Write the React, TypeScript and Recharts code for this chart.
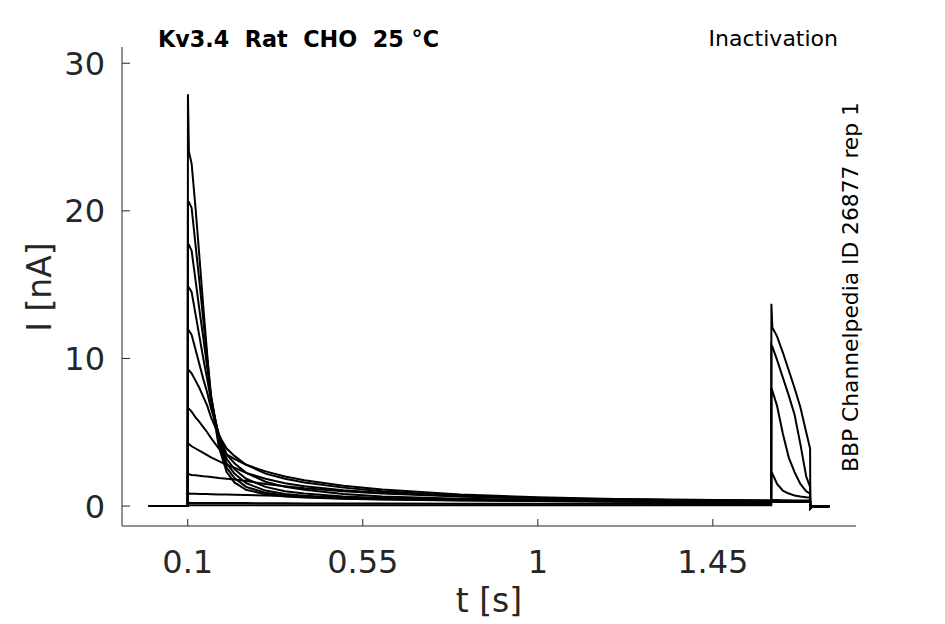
import React from 'react';
import { LineChart, Line, XAxis, YAxis } from 'recharts';

// sample times [s]
const times = [
  0, 0.1, 0.1005, 0.103, 0.11, 0.12, 0.13, 0.14, 0.15, 0.16, 0.18, 0.2,
  0.22, 0.25, 0.3, 0.35, 0.4, 0.5, 0.6, 0.8, 1.0, 1.2, 1.4, 1.6,
  1.6005, 1.603, 1.615, 1.63, 1.645, 1.66, 1.675, 1.69, 1.7, 1.7005, 1.705, 1.75,
];

// current traces [nA], one per prepulse step
const trace1 = [0, 0, 27.9, 24.0, 23.2, 20.2, 16.9, 13.5, 10.3, 7.2, 4.0, 2.3, 1.6, 1.1, 0.8, 0.65, 0.58, 0.5, 0.45, 0.38, 0.34, 0.3, 0.28, 0.27, 0.32, 0.3, 0.29, 0.28, 0.28, 0.27, 0.27, 0.27, 0.27, -0.15, -0.03, -0.02];
const trace2 = [0, 0, 20.6, 20.6, 20.2, 17.7, 15.2, 12.6, 10.0, 7.5, 4.3, 2.6, 1.9, 1.3, 0.9, 0.72, 0.62, 0.52, 0.46, 0.4, 0.35, 0.32, 0.3, 0.28, 0.33, 0.31, 0.3, 0.29, 0.29, 0.28, 0.28, 0.28, 0.28, -0.15, -0.03, -0.02];
const trace3 = [0, 0, 17.7, 17.7, 17.3, 15.3, 13.3, 11.4, 9.4, 7.4, 4.6, 2.9, 2.2, 1.55, 1.05, 0.82, 0.7, 0.57, 0.5, 0.42, 0.37, 0.33, 0.31, 0.29, 0.34, 0.32, 0.31, 0.3, 0.3, 0.29, 0.29, 0.29, 0.29, -0.15, -0.03, -0.02];
const trace4 = [0, 0, 14.8, 14.8, 14.5, 13.0, 11.5, 10.0, 8.6, 7.1, 4.8, 3.2, 2.5, 1.85, 1.3, 1.0, 0.85, 0.65, 0.55, 0.45, 0.39, 0.35, 0.32, 0.3, 0.35, 0.33, 0.32, 0.31, 0.31, 0.3, 0.3, 0.3, 0.3, -0.15, -0.03, -0.02];
const trace5 = [0, 0, 11.9, 11.9, 11.6, 10.6, 9.6, 8.6, 7.7, 6.6, 4.9, 3.5, 2.9, 2.25, 1.65, 1.3, 1.1, 0.82, 0.65, 0.5, 0.42, 0.37, 0.34, 0.32, 0.37, 0.35, 0.34, 0.33, 0.33, 0.32, 0.32, 0.32, 0.32, -0.15, -0.03, -0.02];
const trace6 = [0, 0, 9.2, 9.2, 9.0, 8.5, 8.0, 7.4, 6.8, 6.0, 4.8, 3.9, 3.4, 2.8, 2.2, 1.85, 1.6, 1.25, 1.0, 0.7, 0.55, 0.45, 0.4, 0.36, 0.4, 0.38, 0.37, 0.36, 0.36, 0.35, 0.35, 0.35, 0.35, -0.15, -0.03, -0.02];
const trace7 = [0, 0, 6.6, 6.6, 6.4, 6.0, 5.7, 5.35, 5.0, 4.6, 3.9, 3.5, 3.2, 2.8, 2.35, 2.0, 1.75, 1.38, 1.12, 0.78, 0.6, 0.48, 0.42, 0.38, 0.42, 0.4, 0.39, 0.38, 0.38, 0.37, 0.37, 0.37, 0.37, -0.15, -0.03, -0.02];
const trace8 = [0, 0, 4.2, 4.2, 4.05, 3.9, 3.75, 3.6, 3.45, 3.3, 3.05, 2.8, 2.6, 2.25, 1.85, 1.55, 1.35, 1.08, 0.9, 0.66, 0.52, 0.44, 0.39, 0.36, 0.4, 0.38, 0.37, 0.36, 0.36, 0.35, 0.35, 0.35, 0.35, -0.15, -0.03, -0.02];
const trace9 = [0, 0, 2.15, 2.15, 2.1, 2.08, 2.05, 2.02, 2.0, 1.97, 1.9, 1.85, 1.8, 1.7, 1.5, 1.35, 1.2, 1.0, 0.85, 0.65, 0.52, 0.44, 0.39, 0.36, 2.3, 2.2, 1.5, 1.05, 0.85, 0.72, 0.65, 0.6, 0.58, -0.15, -0.03, -0.02];
const trace10 = [0, 0, 0.85, 0.85, 0.84, 0.83, 0.82, 0.82, 0.81, 0.8, 0.79, 0.78, 0.77, 0.75, 0.72, 0.68, 0.64, 0.57, 0.52, 0.44, 0.38, 0.34, 0.32, 0.3, 8.0, 7.8, 6.8, 4.9, 3.3, 2.3, 1.5, 1.0, 0.85, -0.15, -0.03, -0.02];
const trace11 = [0, 0, 0.22, 0.22, 0.21, 0.21, 0.21, 0.2, 0.2, 0.2, 0.2, 0.2, 0.2, 0.2, 0.19, 0.19, 0.18, 0.18, 0.17, 0.16, 0.15, 0.15, 0.14, 0.14, 10.9, 10.8, 9.9, 8.7, 7.5, 6.2, 4.2, 2.0, 1.3, -0.15, -0.03, -0.02];
const trace12 = [0, 0, 0.05, 0.05, 0.05, 0.05, 0.05, 0.05, 0.05, 0.05, 0.05, 0.05, 0.05, 0.05, 0.05, 0.05, 0.05, 0.05, 0.05, 0.05, 0.05, 0.05, 0.05, 0.05, 13.7, 12.1, 11.5, 10.4, 9.2, 8.0, 6.7, 5.0, 3.9, -0.15, -0.03, -0.02];

const traces = [trace1, trace2, trace3, trace4, trace5, trace6, trace7, trace8, trace9, trace10, trace11, trace12];

const xTicks = [0.1, 0.55, 1, 1.45];
const yTicks = [0, 10, 20, 30];

const rows = times.map((t, i) => {
  const row: Record<string, number> = { t };
  traces.forEach((tr, j) => {
    row[`s${j}`] = tr[i];
  });
  return row;
});

const FONT = '"DejaVu Sans", sans-serif';
const INK = '#262626';

const XTick = (props: any) => {
  const { x, y, payload } = props;
  return (
    <g>
      <line x1={x} x2={x} y1={y} y2={y - 7} stroke={INK} strokeWidth={1} />
      <text x={x} y={y + 47} textAnchor="middle" fontSize={32} fontFamily={FONT} fill={INK}>
        {String(payload.value)}
      </text>
    </g>
  );
};

const YTick = (props: any) => {
  const { x, y, payload } = props;
  return (
    <g>
      <line x1={x} x2={x + 8} y1={y} y2={y} stroke={INK} strokeWidth={1} />
      <text x={x - 17} y={y + 11.5} textAnchor="end" fontSize={32} fontFamily={FONT} fill={INK}>
        {String(payload.value)}
      </text>
    </g>
  );
};

export default function App() {
  return (
    <div style={{ position: 'absolute', left: 0, top: 0, width: 945, height: 624, background: '#fff' }}>
      <LineChart
        width={945}
        height={624}
        data={rows}
        margin={{ top: 47, right: 89, bottom: 38, left: 62 }}
      >
        <XAxis
          dataKey="t"
          type="number"
          domain={[-0.069, 1.818]}
          allowDataOverflow
          ticks={xTicks}
          height={60}
          tickSize={0}
          tickMargin={0}
          tickLine={false}
          axisLine={{ stroke: INK, strokeWidth: 1 }}
          tick={<XTick />}
          interval={0}
        />
        <YAxis
          type="number"
          domain={[-1.35, 31.1]}
          allowDataOverflow
          ticks={yTicks}
          width={60}
          tickSize={0}
          tickMargin={0}
          tickLine={false}
          axisLine={{ stroke: INK, strokeWidth: 1 }}
          tick={<YTick />}
          interval={0}
        />
        {traces.map((_, j) => (
          <Line
            key={j}
            dataKey={`s${j}`}
            type="linear"
            stroke="#000"
            strokeWidth={2}
            dot={false}
            activeDot={false}
            isAnimationActive={false}
          />
        ))}
      </LineChart>
      <svg
        width={945}
        height={624}
        style={{ position: 'absolute', left: 0, top: 0, pointerEvents: 'none' }}
      >
        <text x={158} y={47} fontSize={22.3} fontWeight="bold" fontFamily={FONT} fill="#000" style={{ whiteSpace: 'pre' }}>
          {'Kv3.4  Rat  CHO  25 °C'}
        </text>
        <text x={838} y={46} fontSize={22} textAnchor="end" fontFamily={FONT} fill="#000">
          Inactivation
        </text>
        <text
          transform="translate(858, 287) rotate(-90)"
          textAnchor="middle"
          fontSize={21.8}
          fontFamily={FONT}
          fill="#000"
        >
          BBP Channelpedia ID 26877 rep 1
        </text>
        <text
          transform="translate(51, 287) rotate(-90)"
          textAnchor="middle"
          fontSize={33}
          fontFamily={FONT}
          fill={INK}
        >
          I [nA]
        </text>
        <text x={489} y={612} textAnchor="middle" fontSize={33} fontFamily={FONT} fill={INK}>
          t [s]
        </text>
      </svg>
    </div>
  );
}
